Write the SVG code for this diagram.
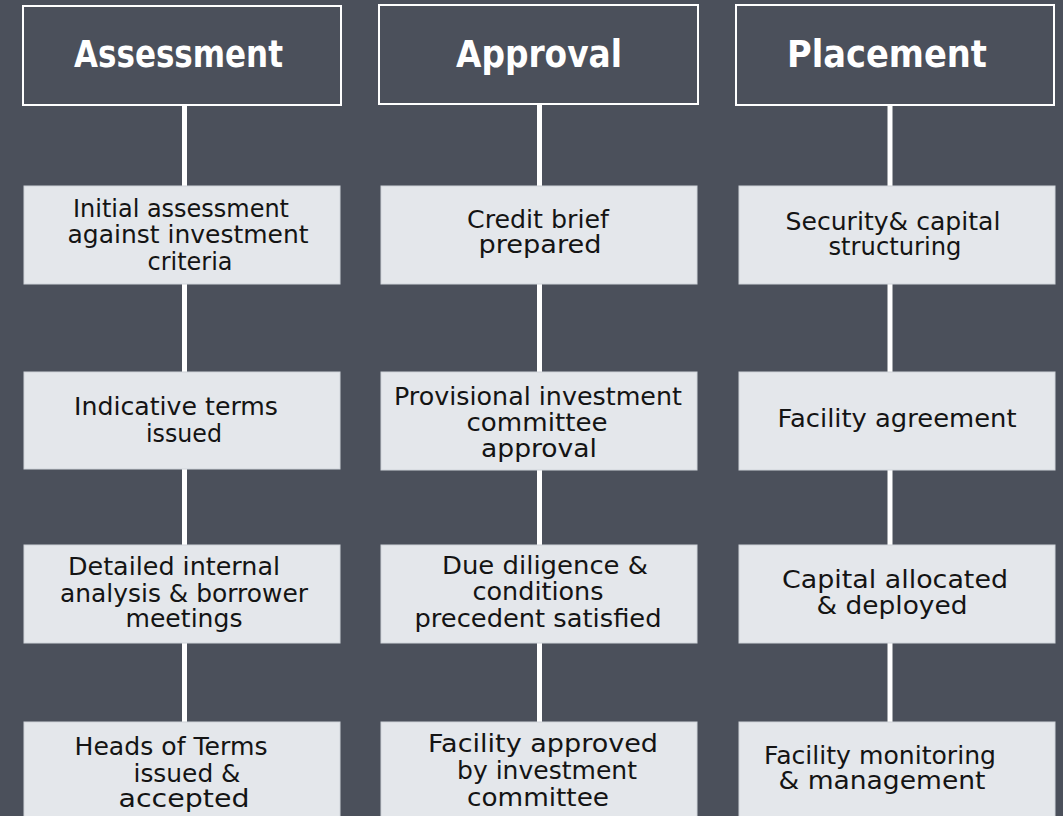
<svg xmlns="http://www.w3.org/2000/svg" width="1063" height="816" viewBox="0 0 1063 816">
<style>
.hdr{fill:none;stroke:#ffffff;stroke-width:2}
.ht{font-family:"DejaVu Sans",sans-serif;font-weight:bold;font-size:37px;fill:#ffffff;text-anchor:middle}
.box{fill:#e4e7eb;stroke:#d0d4da;stroke-width:1}
.bt{font-family:"DejaVu Sans",sans-serif;font-size:25px;fill:#141414;text-anchor:middle}
.con{stroke:#ffffff;stroke-width:5;fill:none}
</style>
<rect width="1063" height="816" fill="#4b505b"/>
<g id="connectors">
<path class="con" d="M184.5 105V186M184.5 284V372M184.5 469V545M184.5 643V722"/>
<path class="con" d="M539.5 104V186M539.5 284V372M539.5 469V545M539.5 643V722"/>
<path class="con" d="M890 105V186M890 284V372M890 469V545M890 643V722"/>
</g>
<g id="h-assessment"><rect class="hdr" x="23" y="6" width="318" height="99"/><text class="ht" x="178.5" y="67" textLength="209" lengthAdjust="spacingAndGlyphs">Assessment</text></g>
<g id="h-approval"><rect class="hdr" x="379" y="5" width="319" height="99"/><text class="ht" x="539" y="67" textLength="166" lengthAdjust="spacingAndGlyphs">Approval</text></g>
<g id="h-placement"><rect class="hdr" x="736" y="5" width="318" height="100"/><text class="ht" x="887" y="67" textLength="200" lengthAdjust="spacingAndGlyphs">Placement</text></g>

<g id="a1"><rect class="box" x="24" y="186" width="316" height="98"/>
<text class="bt"><tspan x="181" y="217" textLength="216" lengthAdjust="spacingAndGlyphs">Initial assessment</tspan><tspan x="188" y="243" textLength="241" lengthAdjust="spacingAndGlyphs">against investment</tspan><tspan x="190" y="270" textLength="85" lengthAdjust="spacingAndGlyphs">criteria</tspan></text></g>
<g id="a2"><rect class="box" x="24" y="372" width="316" height="97"/>
<text class="bt"><tspan x="176" y="415" textLength="204" lengthAdjust="spacingAndGlyphs">Indicative terms</tspan><tspan x="184" y="442" textLength="76" lengthAdjust="spacingAndGlyphs">issued</tspan></text></g>
<g id="a3"><rect class="box" x="24" y="545" width="316" height="98"/>
<text class="bt"><tspan x="174" y="575" textLength="212" lengthAdjust="spacingAndGlyphs">Detailed internal</tspan><tspan x="184" y="602" textLength="248" lengthAdjust="spacingAndGlyphs">analysis &amp; borrower</tspan><tspan x="184" y="627" textLength="117" lengthAdjust="spacingAndGlyphs">meetings</tspan></text></g>
<g id="a4"><rect class="box" x="24" y="722" width="316" height="100"/>
<text class="bt"><tspan x="171" y="755" textLength="193" lengthAdjust="spacingAndGlyphs">Heads of Terms</tspan><tspan x="187" y="782" textLength="107" lengthAdjust="spacingAndGlyphs">issued &amp;</tspan><tspan x="184" y="807" textLength="131" lengthAdjust="spacingAndGlyphs">accepted</tspan></text></g>

<g id="p1"><rect class="box" x="381" y="186" width="316" height="98"/>
<text class="bt"><tspan x="538" y="228" textLength="142" lengthAdjust="spacingAndGlyphs">Credit brief</tspan><tspan x="540" y="253" textLength="123" lengthAdjust="spacingAndGlyphs">prepared</tspan></text></g>
<g id="p2"><rect class="box" x="381" y="372" width="316" height="98"/>
<text class="bt"><tspan x="538" y="405" textLength="288" lengthAdjust="spacingAndGlyphs">Provisional  investment</tspan><tspan x="537" y="431" textLength="141" lengthAdjust="spacingAndGlyphs">committee</tspan><tspan x="539" y="457" textLength="116" lengthAdjust="spacingAndGlyphs">approval</tspan></text></g>
<g id="p3"><rect class="box" x="381" y="545" width="316" height="98"/>
<text class="bt"><tspan x="545" y="574" textLength="206" lengthAdjust="spacingAndGlyphs">Due diligence &amp;</tspan><tspan x="538" y="600" textLength="131" lengthAdjust="spacingAndGlyphs">conditions</tspan><tspan x="538" y="627" textLength="247" lengthAdjust="spacingAndGlyphs">precedent satisfied</tspan></text></g>
<g id="p4"><rect class="box" x="381" y="722" width="316" height="100"/>
<text class="bt"><tspan x="543" y="752" textLength="230" lengthAdjust="spacingAndGlyphs">Facility  approved</tspan><tspan x="547" y="779" textLength="180" lengthAdjust="spacingAndGlyphs">by investment</tspan><tspan x="538" y="806" textLength="142" lengthAdjust="spacingAndGlyphs">committee</tspan></text></g>

<g id="c1"><rect class="box" x="739" y="186" width="316" height="98"/>
<text class="bt"><tspan x="893" y="230" textLength="215" lengthAdjust="spacingAndGlyphs">Security&amp; capital</tspan><tspan x="895" y="255" textLength="133" lengthAdjust="spacingAndGlyphs">structuring</tspan></text></g>
<g id="c2"><rect class="box" x="739" y="372" width="316" height="98"/>
<text class="bt"><tspan x="897" y="427" textLength="239" lengthAdjust="spacingAndGlyphs">Facility agreement</tspan></text></g>
<g id="c3"><rect class="box" x="739" y="545" width="316" height="98"/>
<text class="bt"><tspan x="895" y="588" textLength="226" lengthAdjust="spacingAndGlyphs">Capital allocated</tspan><tspan x="892" y="614" textLength="151" lengthAdjust="spacingAndGlyphs">&amp; deployed</tspan></text></g>
<g id="c4"><rect class="box" x="739" y="722" width="316" height="100"/>
<text class="bt"><tspan x="880" y="764" textLength="232" lengthAdjust="spacingAndGlyphs">Facility monitoring</tspan><tspan x="882" y="789" textLength="207" lengthAdjust="spacingAndGlyphs">&amp; management</tspan></text></g>
</svg>
